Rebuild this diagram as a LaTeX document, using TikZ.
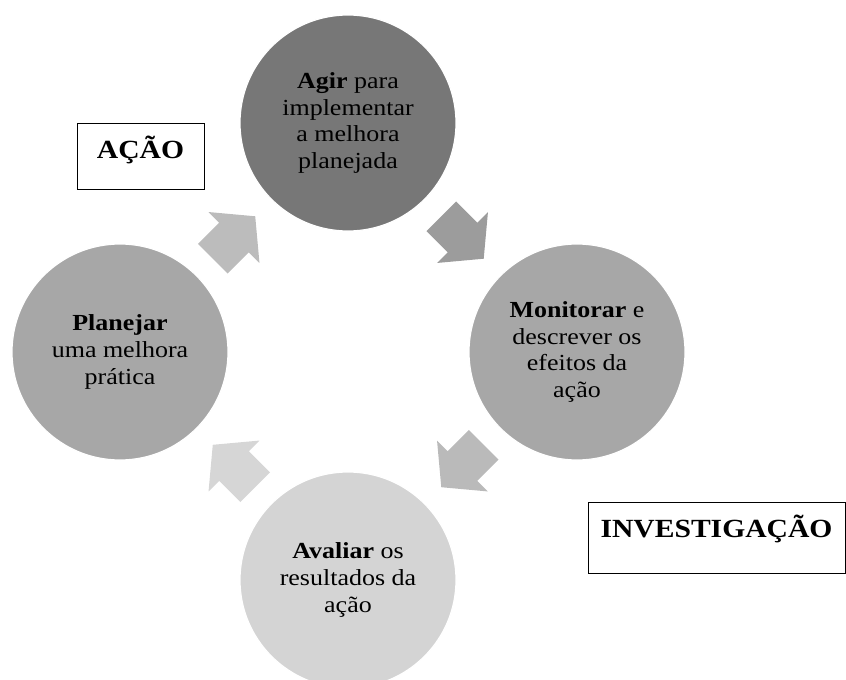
\documentclass[tikz,border=0pt]{standalone}
\usepackage{fontspec}
\setmainfont{Liberation Serif}[FakeStretch=1.13]
\usetikzlibrary{calc}

\definecolor{stageDark}{HTML}{777777}
\definecolor{stageMid}{HTML}{A7A7A7}
\definecolor{stageLight}{HTML}{D4D4D4}
\definecolor{arrowA}{HTML}{BCBCBC}
\definecolor{arrowB}{HTML}{9C9C9C}
\definecolor{arrowC}{HTML}{BABABA}
\definecolor{arrowD}{HTML}{D6D6D6}

\tikzset{
    stage/.style={circle, draw=white, line width=1.2pt, minimum size=216pt,
        inner sep=0pt, align=center, font=\fontsize{23}{26.7}\selectfont},
    tag/.style={draw=black, line width=0.9pt, inner sep=0pt,
        font=\bfseries\fontsize{26.2}{30}\selectfont},
    cyclearrow/.pic={
        \fill[#1] (-30,-21) -- (0,-21) -- (0,-36) -- (30,0)
            -- (0,36) -- (0,21) -- (-30,21) -- cycle;
    }
}

\begin{document}
\begin{tikzpicture}[x=1pt, y=-1pt]
    \useasboundingbox (0,0) rectangle (846,680);

    \node[stage, fill=stageDark] (agir) at (348,123)
        {\textbf{Agir} para\\implementar\\a melhora\\planejada};
    \node[stage, fill=stageMid] (monitorar) at (577,352)
        {\textbf{Monitorar} e\\descrever os\\efeitos da\\ação};
    \node[stage, fill=stageLight] (avaliar) at (348,580)
        {\textbf{Avaliar} os\\resultados da\\ação};
    \node[stage, fill=stageMid] (planejar) at (120,352)
        {\textbf{Planejar}\\uma melhora\\prática};

    \foreach \a/\b/\ang/\col in {
        planejar/agir/45/arrowA, agir/monitorar/-45/arrowB,
        monitorar/avaliar/-135/arrowC, avaliar/planejar/135/arrowD%
    } {
        \path ($(\a.center)!0.5!(\b.center)$)
            pic[rotate=\ang] {cyclearrow=\col};
    }

    \node[tag, minimum width=127pt, minimum height=66pt,
        text height=22pt, text depth=18pt] (acao) at (140.5,156) {AÇÃO};
    \node[tag, minimum width=257pt, minimum height=71pt,
        text height=22pt, text depth=22pt] (investigacao) at (716.5,537.5)
        {INVESTIGAÇÃO};
\end{tikzpicture}
\end{document}
